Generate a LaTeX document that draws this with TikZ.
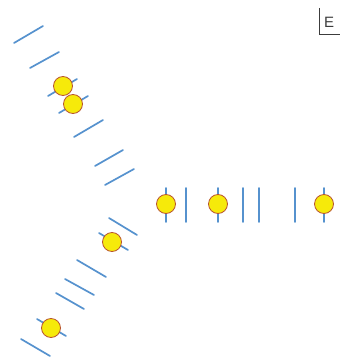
\documentclass[tikz,border=0pt]{standalone}
\usepackage{fontspec}
\setsansfont{Liberation Sans}
\usepackage{tikz}
\usetikzlibrary{positioning}
\usepackage{xcolor}
\definecolor{tickblue}{RGB}{86,146,206}
\definecolor{beadfill}{RGB}{246,234,10}
\definecolor{beadrim}{RGB}{184,84,48}
\definecolor{framegray}{RGB}{60,60,60}

\begin{document}
\begin{tikzpicture}[x=1pt, y=-1pt,
    tick/.style={draw=tickblue, line width=1.7pt, line cap=round},
    bead/.style={circle, fill=beadfill, draw=beadrim, line width=0.8pt, minimum size=19pt, inner sep=0pt}]

        \useasboundingbox (0,0) rectangle (340,358);

        % Upper arm
        \draw[tick] (14,43) -- (43,26);
        \draw[tick] (30,68) -- (59,52);
        \draw[tick] (48,96) -- (77,79);
        \draw[tick] (59,113) -- (88,96);
        \draw[tick] (74,137) -- (103,120);
        \draw[tick] (95,166) -- (123,150);
        \draw[tick] (105,185) -- (134,169);
        \node[bead] (u1) at (63,86) {};
        \node[bead] (u2) at (73,104) {};

        % Lower arm
        \draw[tick] (109,218) -- (137,235);
        \draw[tick] (99,233) -- (128,250);
        \draw[tick] (77,260) -- (106,277);
        \draw[tick] (65,279) -- (94,295);
        \draw[tick] (56,293) -- (84,309);
        \draw[tick] (37,319) -- (66,336);
        \draw[tick] (21,339) -- (50,356);
        \node[bead] (l1) at (112,242) {};
        \node[bead] (l2) at (51,328) {};

        % Right arm
        \foreach \x in {166,186,218,243,259,295,324}
            \draw[tick] (\x,188) -- (\x,222);
        \node[bead] (r1) at (166,204) {};
        \node[bead] (r2) at (218,204) {};
        \node[bead] (r3) at (324,204) {};

        % Corner label
        \draw[framegray, line width=0.9pt] (319,8) -- (319,34) -- (340,34);
        \node[anchor=base west, inner sep=0pt, text=framegray, font=\sffamily\fontsize{15}{15}\selectfont] (lbl) at (324,28) {E};

    \end{tikzpicture}
\end{document}
